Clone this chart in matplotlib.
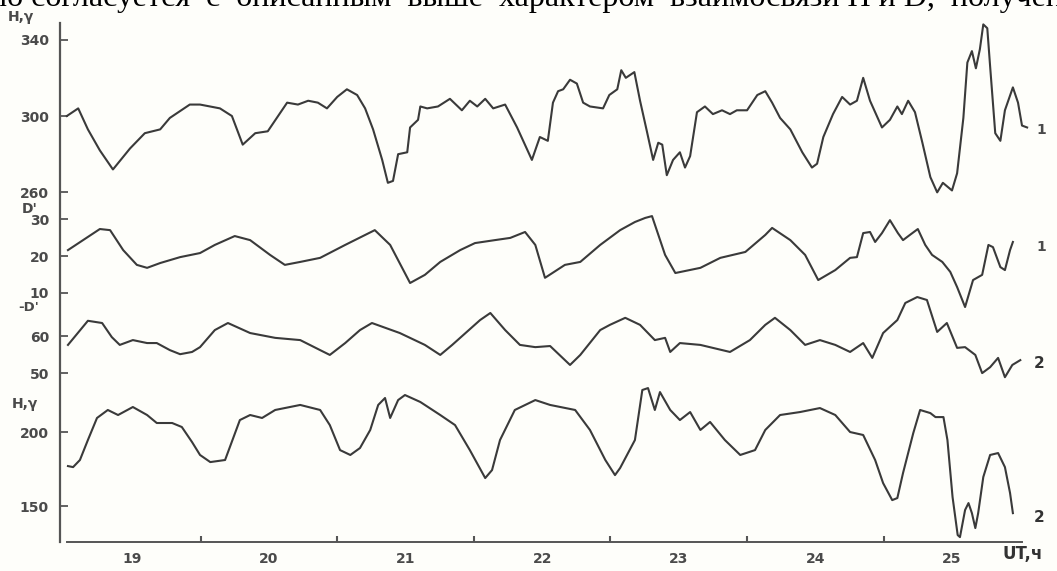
import matplotlib
matplotlib.use("Agg")
import matplotlib.pyplot as plt

# время, часы UT от начала 19-го числа
t1 = [0.5, 2.5, 4.2, 6.3, 8.6, 11.6, 14.2, 16.9, 18.6, 22.1, 23.9, 27.4, 29.5, 31.4, 33.6, 35.8,
      39.2, 41.1, 42.9, 44.6, 46.2, 48.0, 49.7, 51.5, 52.9, 54.3, 55.9, 56.9, 57.8, 58.7, 60.3,
      60.8, 62.2, 62.6, 63.8, 65.7, 67.8, 69.9, 71.3, 72.6, 74.0, 75.4, 77.5, 79.6, 82.2, 83.6,
      85.0, 85.9, 86.8, 87.7, 88.9, 90.1, 91.2, 92.4, 94.7, 95.8, 97.2, 97.9, 98.7, 100.2, 101.2,
      102.4, 103.5, 104.4, 105.1, 105.9, 107.0, 108.2, 109.1, 110.0, 111.2, 112.6, 114.0, 115.6,
      117.0, 118.2, 120.0, 121.8, 123.2, 124.4, 125.8, 127.6, 129.7, 131.4, 132.3, 133.4, 135.1,
      136.7, 138.1, 139.3, 140.4, 141.6, 143.7, 145.1, 146.4, 147.2, 148.3, 149.5, 150.8, 152.2,
      153.4, 154.4, 156.0, 156.9, 158.0, 158.7, 159.5, 160.2, 160.9, 161.5, 162.2, 162.7, 163.6,
      164.5, 165.3, 166.7, 167.6, 168.3, 169.2]
h1 = [300, 304, 293, 282, 272, 283, 291, 293, 299, 306, 306, 304, 300, 285, 291, 292,
      307, 306, 308, 307, 304, 310, 314, 311, 304, 293, 277, 265, 266, 280, 281,
      294, 298, 305, 304, 305, 309, 303, 308, 305, 309, 304, 306, 294, 277, 289,
      287, 307, 313, 314, 319, 317, 307, 305, 304, 311, 314, 324, 320, 323, 308,
      292, 277, 286, 285, 269, 277, 281, 273, 279, 302, 305, 301, 303,
      301, 303, 303, 311, 313, 307, 299, 293, 281, 273, 275, 289, 301,
      310, 306, 308, 320, 308, 294, 298, 305, 301, 308, 302, 286, 268,
      260, 265, 261, 270, 299, 328, 334, 325, 335, 348, 346, 326, 291,
      287, 303, 315, 307, 295, 294]

t2 = [0.7, 6.3, 8.1, 10.4, 12.8, 14.6, 16.9, 20.4, 23.9, 26.5, 30.0, 32.7, 36.2, 38.8, 41.5,
      45.0, 49.4, 54.6, 57.3, 60.8, 63.4, 66.1, 69.6, 72.2, 75.7, 78.4, 81.0, 82.8, 84.5, 88.0,
      90.7, 94.2, 97.7, 100.3, 102.1, 103.3, 105.6, 107.4, 111.8, 115.3, 119.7, 123.2, 124.4,
      127.6, 130.2, 132.5, 135.5, 138.1, 139.3, 140.4, 141.6, 142.5, 143.7, 145.1, 146.5, 147.4,
      148.6, 150.0, 151.3, 152.5, 154.3, 155.7, 156.9, 158.3, 159.7, 161.3, 162.4, 163.2, 164.5,
      165.3, 166.2, 166.7]
d1 = [21.6, 27.3, 27.0, 21.6, 17.6, 16.8, 18.1, 19.7, 20.8, 23.0, 25.4, 24.3, 20.3, 17.6, 18.4,
      19.5, 23.0, 27.0, 23.0, 12.7, 14.9, 18.4, 21.6, 23.5, 24.3, 24.9, 26.5, 23.0, 14.1, 17.6,
      18.4, 23.0, 27.0, 29.2, 30.3, 30.8, 20.3, 15.4, 16.8, 19.5, 21.1, 25.7, 27.6,
      24.3, 20.3, 13.5, 16.2, 19.5, 19.7, 26.2, 26.5, 23.8, 26.2, 29.7, 26.2, 24.3,
      25.7, 27.3, 23.0, 20.3, 18.4, 15.7, 11.6, 6.2, 13.5, 14.9, 23.0, 22.4, 17.0,
      16.2, 21.6, 23.8]

t3 = [0.7, 4.2, 6.7, 8.4, 9.8, 12.1, 14.6, 16.3, 18.6, 20.4, 22.5, 23.9, 26.5, 28.8, 32.7,
      37.1, 41.5, 45.0, 46.7, 49.4, 52.0, 54.1, 59.0, 63.4, 66.1, 68.2, 73.1, 74.9, 77.5, 80.1,
      82.8, 85.4, 88.9, 90.7, 94.2, 95.9, 98.6, 101.2, 103.8, 105.6, 106.5, 108.2, 111.8, 117.0,
      120.5, 123.2, 124.9, 127.6, 130.2, 132.8, 135.5, 138.1, 140.4, 142.0, 143.9, 146.4, 147.8,
      149.9, 151.6, 153.4, 155.1, 156.9, 158.3, 160.1, 161.3, 162.7, 164.1, 165.3, 166.6, 168.0]
d2 = [57.6, 64.1, 63.5, 59.7, 57.6, 58.9, 58.1, 58.1, 56.2, 55.1, 55.7, 57.0, 61.6, 63.5, 60.8,
      59.5, 58.9, 56.2, 54.9, 58.1, 61.6, 63.5, 60.8, 57.6, 54.9, 57.6, 64.3, 66.2, 61.6, 57.6,
      57.0, 57.3, 52.2, 54.9, 61.6, 63.0, 64.9, 63.0, 58.9, 59.5, 55.7, 58.1, 57.6, 55.7,
      58.9, 63.0, 64.9, 61.6, 57.6, 58.9, 57.6, 55.7, 58.1, 54.1, 60.8, 64.3, 68.9,
      70.5, 69.7, 61.1, 63.5, 56.8, 57.0, 54.9, 50.0, 51.6, 54.1, 48.9, 52.2, 53.5]

t4 = [0.7, 1.6, 2.8, 4.2, 5.8, 7.7, 9.5, 12.1, 14.6, 16.3, 19.0, 20.7, 22.5, 23.9, 25.7, 28.3,
      30.9, 32.7, 34.8, 37.1, 41.5, 45.0, 46.7, 48.5, 50.3, 52.0, 53.8, 55.2, 56.4, 57.3, 58.7,
      59.9, 62.6, 66.1, 68.7, 71.3, 74.0, 75.2, 76.6, 79.2, 82.8, 85.4, 89.8, 92.4, 95.1, 96.8,
      97.7, 100.3, 101.6, 102.6, 103.8, 104.7, 106.5, 108.2, 110.0, 111.8, 113.5, 116.1, 118.8,
      121.4, 123.2, 125.8, 129.3, 132.8, 135.5, 138.1, 140.4, 142.5, 143.9, 145.5, 146.4, 147.4,
      149.2, 150.4, 152.2, 153.1, 154.5, 155.2, 156.1, 157.0, 157.4, 158.3, 158.9, 159.5, 160.1,
      160.6, 161.5, 162.7, 164.1, 165.3, 166.2, 166.7]
h2 = [177.0, 176.3, 181.1, 194.6, 209.5, 214.9, 211.5, 216.9, 211.5, 206.1, 206.1, 203.4, 193.2,
      184.5, 179.7, 181.1, 208.1, 211.5, 209.5, 214.9, 218.3, 214.9, 204.7, 187.8, 184.5, 189.2,
      201.4, 218.3, 223.0, 209.5, 221.6, 225.0, 220.3, 211.5, 204.7, 187.8, 168.9, 174.3, 194.6,
      214.9, 221.6, 218.3, 214.9, 201.4, 181.1, 170.9, 175.7, 194.6, 228.4, 229.7, 214.9, 227.0,
      214.9, 208.1, 213.5, 201.4, 206.8, 194.6, 184.5, 187.8, 201.4, 211.5, 213.5, 216.2, 211.5,
      200.0, 198.0, 181.1, 165.5, 154.0, 155.4, 172.3, 199.3, 214.9, 212.8, 210.1, 210.1, 194.6,
      156.1, 130.4, 129.0, 147.3, 152.0, 145.2, 135.1, 145.2, 169.6, 184.5, 185.8, 176.3, 158.8,
      145.2]

days = ['19', '20', '21', '22', '23', '24', '25']
W, H = 1057, 571
ink = '#3a3a3a'
grey = '#4a4a4a'

fig = plt.figure(figsize=(W / 100, H / 100), dpi=100)
fig.patch.set_facecolor('#fefefa')

L, R = 60 / W, 962 / W
xlim = (-0.7, 168.3)


def box(top, bot):
    return [L, 1 - bot / H, R, (bot - top) / H]


# базовая ось: левая линия и ось времени
base = fig.add_axes(box(23, 542))
base.set_facecolor('none')
base.set_xlim(*xlim)
base.set_ylim(0, 1)
for s in ['top', 'right']:
    base.spines[s].set_visible(False)
base.spines['left'].set_color('#555555')
base.spines['left'].set_linewidth(1.6)
base.spines['bottom'].set_color('#555555')
base.spines['bottom'].set_linewidth(1.4)
base.spines['bottom'].set_bounds(0.5, 168.3)
base.set_yticks([])
base.set_xticks([24 * i for i in range(1, 7)])
base.set_xticks([12 + 24 * i for i in range(7)], minor=True)
base.set_xticklabels([])
base.set_xticklabels(days, minor=True)
base.tick_params(axis='x', which='major', direction='in', length=4, width=1.5, color='#555555')
base.tick_params(axis='x', which='minor', length=0, pad=7, labelsize=10, labelcolor=grey)
for lab in base.get_xticklabels(minor=True):
    lab.set_fontweight('bold')

panels = [
    (box(20, 200), (256.0, 350.3), t1, h1, [260, 300, 340]),
    (box(205, 300), (8.1, 33.8), t2, d1, [10, 20, 30]),
    (box(300, 385), (46.8, 69.7), t3, d2, [50, 60]),
    (box(390, 542), (125.7, 228.4), t4, h2, [150, 200]),
]
for pos, yl, t, v, ticks in panels:
    ax = fig.add_axes(pos)
    ax.set_facecolor('none')
    ax.set_xlim(*xlim)
    ax.set_ylim(*yl)
    for s in ax.spines.values():
        s.set_visible(False)
    ax.set_xticks([])
    ax.set_yticks(ticks)
    ax.tick_params(axis='y', direction='in', length=6, width=1.3, color='#555555',
                   pad=8, labelsize=10, labelcolor=grey)
    for lab in ax.get_yticklabels():
        lab.set_fontweight('bold')
    ax.plot(t, v, color=ink, lw=1.5, clip_on=False)

# подписи осей и кривых
kw = dict(fontsize=10, fontweight='bold', color=grey, va='center')
fig.text(8 / W, 1 - 17 / H, 'H,γ', **kw)
fig.text(22 / W, 1 - 209 / H, "D'", **kw)
fig.text(18 / W, 1 - 307 / H, "-D'", fontsize=9.5, fontweight='bold', color=grey, va='center')
fig.text(12 / W, 1 - 404 / H, 'H,γ', **kw)
fig.text(1036 / W, 1 - 130 / H, '1', **kw)
fig.text(1036 / W, 1 - 247 / H, '1', **kw)
fig.text(1034 / W, 1 - 363 / H, '2', fontsize=11, fontweight='bold', color='#333333', va='center')
fig.text(1034 / W, 1 - 517 / H, '2', fontsize=11, fontweight='bold', color='#333333', va='center')
fig.text(1003 / W, 1 - 554 / H, 'UT,ч', fontsize=12, fontweight='bold', color='#333333', va='center')

# обрезанная строка текста сверху
fig.text(-10 / W, 1 - 6 / H, 'но согласуется  с  описанным  выше  характером  взаимосвязи Н и D,  получен',
         family='Liberation Serif', fontsize=23, color='black', va='baseline')

fig.savefig('out.png', dpi=100, facecolor=fig.get_facecolor())
